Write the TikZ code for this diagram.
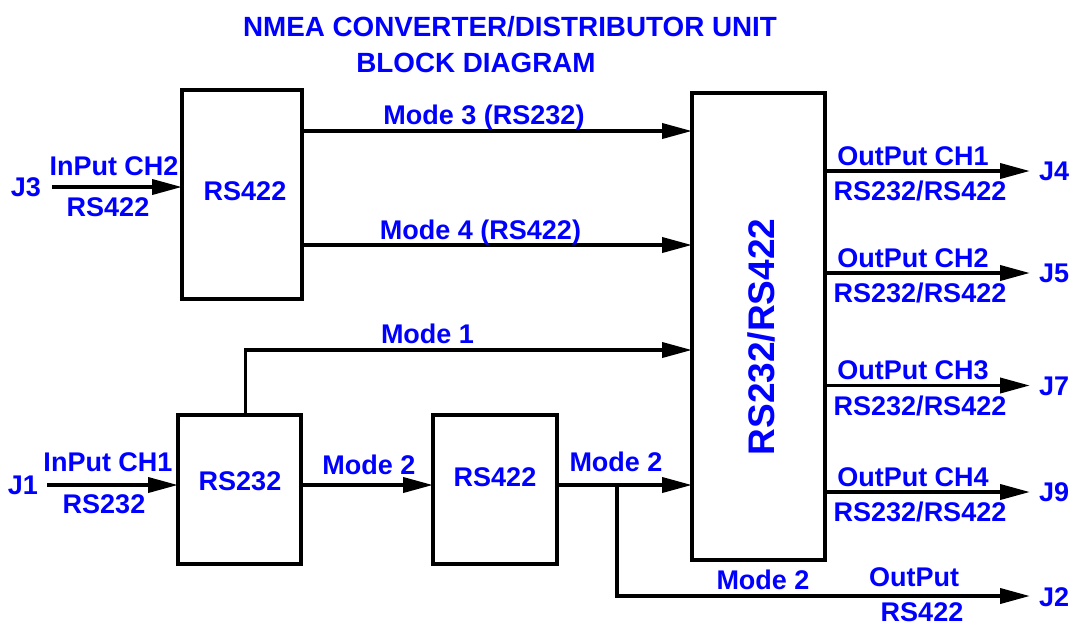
\documentclass[tikz,border=0pt]{standalone}
\usepackage{fontspec}
\setmainfont{Liberation Sans}
\usetikzlibrary{arrows.meta}

\tikzset{
  blk/.style={draw, line width=3.8pt, outer sep=0pt, inner sep=0pt},
  lbl/.style={text=blue, font=\fontsize{27}{30}\selectfont\bfseries,
    inner sep=0pt, text height=19.3pt, text depth=0pt},
  sig/.style={line width=3.8pt, -{Triangle[length=30pt,width=15pt]}},
}

\begin{document}
\begin{tikzpicture}[x=1pt, y=-1pt]
    \useasboundingbox (0,0) rectangle (1075,625);
    % title
    \node[lbl, font=\fontsize{27.8}{30}\selectfont\bfseries] (title) at (510,27) {NMEA CONVERTER/DISTRIBUTOR UNIT};
    \node[lbl, font=\fontsize{27.8}{30}\selectfont\bfseries] (subtitle) at (476,63) {BLOCK DIAGRAM};
    % blocks
    \node[blk, minimum width=120pt, minimum height=209pt] (in2) at (242,194.5) {};
    \node[blk, minimum width=123pt, minimum height=149pt] (in1) at (239.5,489.5) {};
    \node[blk, minimum width=124pt, minimum height=149pt] (conv) at (495,489.5) {};
    \node[blk, minimum width=133pt, minimum height=467pt] (mux) at (758.5,326.5) {};
    \node[lbl] (in2txt) at (245,191) {RS422};
    \node[lbl] (in1txt) at (240,481) {RS232};
    \node[lbl] (convtxt) at (495,477) {RS422};
    \node[lbl, rotate=90, font=\fontsize{37}{40}\selectfont\bfseries,
      text height=26.5pt] (muxtxt) at (761,337) {RS232/RS422};
    % levels
    \coordinate (j3in) at (52,187);
    \coordinate (j1in) at (47,485);
    \coordinate (m3) at (0,131);
    \coordinate (m4) at (0,245);
    \coordinate (m1) at (0,350);
    \coordinate (m2) at (0,485);
    \coordinate (split) at (617,485);
    \coordinate (j2out) at (1030,596);
    % inputs
    \node[lbl] (j3) at (26,187) {J3};
    \node[lbl] (ch2) at (114,166) {InPut CH2};
    \node[lbl] (ch2std) at (108,207) {RS422};
    \draw[sig] (j3in) -- (j3in -| in2.west);
    \node[lbl] (j1) at (23,485) {J1};
    \node[lbl] (ch1) at (108,462) {InPut CH1};
    \node[lbl] (ch1std) at (104,504) {RS232};
    \draw[sig] (j1in) -- (j1in -| in1.west);
    % modes
    \draw[sig] (in2.east |- m3) -- (mux.west |- m3);
    \node[lbl] (mode3) at (484,114.5) {Mode 3 (RS232)};
    \draw[sig] (in2.east |- m4) -- (mux.west |- m4);
    \node[lbl] (mode4) at (480.5,230) {Mode 4 (RS422)};
    \draw[sig] ([xshift=6pt]in1.north) -- ([xshift=6pt]in1.north |- m1) -- (mux.west |- m1);
    \node[lbl] (mode1) at (427.5,333.5) {Mode 1};
    \draw[sig] (in1.east |- m2) -- (conv.west |- m2);
    \node[lbl] (mode2a) at (369,465) {Mode 2};
    \draw[sig] (conv.east |- m2) -- (mux.west |- m2);
    \node[lbl] (mode2b) at (616,462) {Mode 2};
    \draw[sig] (split) -- (split |- j2out) -- (j2out);
    \node[lbl] (mode2c) at (763,580) {Mode 2};
    \node[lbl] (outj2) at (914,577) {OutPut};
    \node[lbl] (outj2std) at (922,612) {RS422};
    \node[lbl] (j2) at (1054,597) {J2};
    % outputs
    \foreach \y/\ch/\jj in {171/1/4, 273/2/5, 385.5/3/7, 492/4/9} {
        \coordinate (o\ch) at (1030,\y);
        \draw[sig] (mux.east |- o\ch) -- (o\ch);
        \node[lbl] (och\ch) at (913,\y-15.5) {OutPut CH\ch};
        \node[lbl] (ostd\ch) at (920,\y+20) {RS232/RS422};
        \node[lbl] (j\jj) at (1054,\y) {J\jj};
    }
\end{tikzpicture}
\end{document}
